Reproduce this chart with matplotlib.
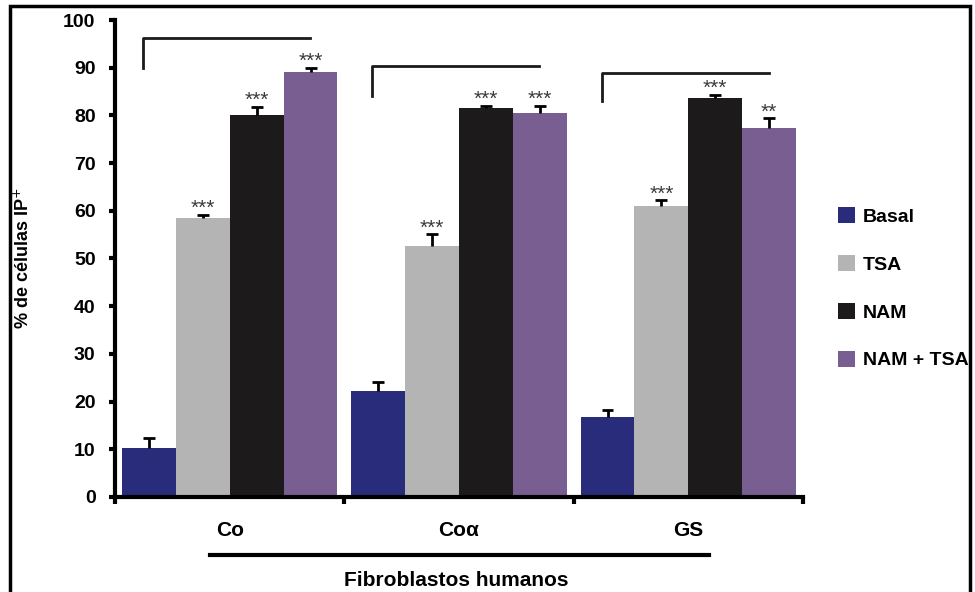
import numpy as np
import matplotlib.pyplot as plt
from matplotlib.patches import Rectangle

plt.rcParams['font.family'] = ['Liberation Sans', 'DejaVu Sans']

groups = ["Co", "Coα", "GS"]
series = ["Basal", "TSA", "NAM", "NAM + TSA"]
colors = ["#292c7b", "#b4b4b4", "#1c1a1b", "#785e91"]

basal = [10.2, 22.2, 16.8]
tsa = [58.5, 52.7, 61.0]
nam = [80.0, 81.5, 83.7]
nam_tsa = [89.0, 80.5, 77.3]

basal_err = [2.2, 1.9, 1.4]
tsa_err = [0.7, 2.4, 1.2]
nam_err = [1.8, 0.5, 0.6]
nam_tsa_err = [1.0, 1.5, 2.1]

stars = [
    ["", "", ""],
    ["***", "***", "***"],
    ["***", "***", "***"],
    ["***", "***", "**"],
]

# bracket: (top y, leg bottom y)
brackets = [(96.3, 90.0), (90.4, 84.0), (88.9, 83.0)]

values = [basal, tsa, nam, nam_tsa]
errors = [basal_err, tsa_err, nam_err, nam_tsa_err]

fig = plt.figure(figsize=(9.75, 5.92), dpi=100)
ax = fig.add_axes([0.118, 0.1605, 0.7056, 0.8057])

x = np.arange(len(groups))
w = 0.235
offsets = (np.arange(4) - 1.5) * w
cap = 0.026

for i, (vals, errs) in enumerate(zip(values, errors)):
    xs = x + offsets[i]
    vals = np.array(vals)
    tops = vals + np.array(errs)
    ax.bar(xs, vals, width=w, color=colors[i], label=series[i], zorder=2)
    # upper-only error bars with a T cap
    ax.vlines(xs, vals, tops, color="black", lw=2, zorder=3)
    ax.hlines(tops, xs - cap, xs + cap, color="black", lw=2, zorder=3)
    for j in range(3):
        if stars[i][j]:
            ax.text(xs[j], tops[j] - 0.7, stars[i][j], ha="center", va="bottom",
                    fontsize=15, color="#3a3a3a")

for j, (top, leg) in enumerate(brackets):
    x0 = x[j] - 0.378
    x1 = x[j] + 0.35
    ax.plot([x0, x0, x1], [leg, top, top], color="#1c1a1b", lw=2, clip_on=False)

ax.set_xlim(-0.5, 2.5)
ax.set_ylim(0, 100)
ax.set_yticks(np.arange(0, 101, 10))
ax.set_xticks([-0.5, 0.5, 1.5, 2.5])
ax.set_xticklabels([])
ax.tick_params(axis="y", direction="out", length=4, width=3, labelsize=14, pad=10)
ax.tick_params(axis="x", direction="out", length=5, width=3)
for lab in ax.get_yticklabels():
    lab.set_fontweight("bold")
for s in ["top", "right"]:
    ax.spines[s].set_visible(False)
ax.spines["left"].set_linewidth(3)
ax.spines["bottom"].set_linewidth(3)

for j, g in enumerate(groups):
    ax.text(x[j], -7.0, g, ha="center", va="center", fontsize=15, fontweight="bold")

ax.set_ylabel("% de células IP$^{+}$", fontsize=13, fontweight="bold", labelpad=22)

# group underline and title
fig.add_artist(plt.Line2D([210 / 975, 709 / 975], [1 - 555 / 592, 1 - 555 / 592],
                          color="black", lw=3))
fig.text(456 / 975, 1 - 580 / 592, "Fibroblastos humanos", ha="center", va="center",
         fontsize=15, fontweight="bold")

leg = ax.legend(loc="upper left", bbox_to_anchor=(1.025, 0.645), frameon=False,
                handlelength=0.9, handleheight=0.9, handletextpad=0.4,
                labelspacing=1.5, prop={"weight": "bold", "size": 14})

# outer frame
fig.add_artist(Rectangle((10 / 975, -0.01), 960 / 975, 1 - 6 / 592 + 0.01,
                         fill=False, edgecolor="black", lw=2.5,
                         transform=fig.transFigure))

fig.savefig("out.png", dpi=100)
